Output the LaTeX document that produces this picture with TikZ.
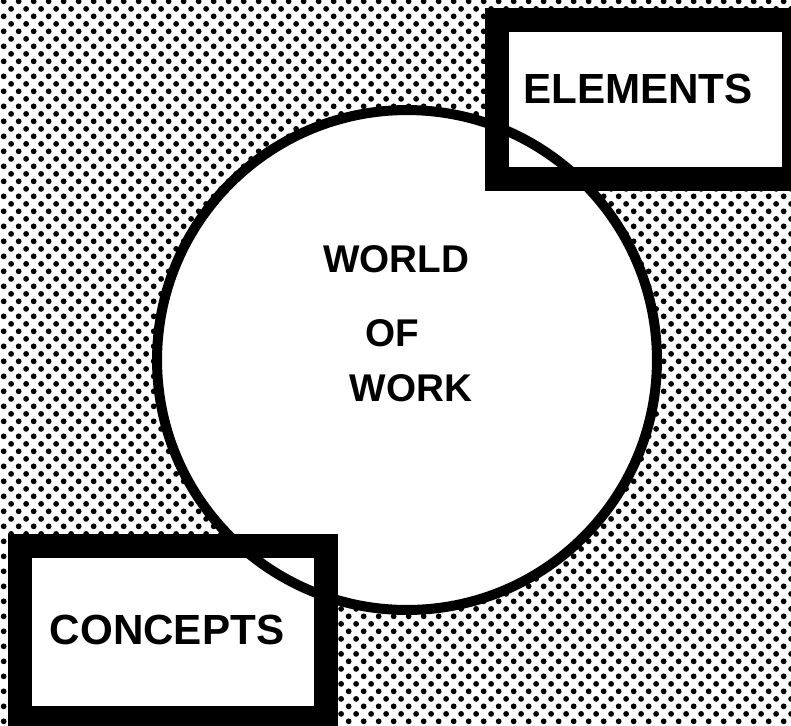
\documentclass[tikz,border=0pt]{standalone}
\usepackage{fontspec}
\setmainfont{Liberation Sans}
\usetikzlibrary{patterns}
\pgfdeclarepatternformonly{halftone}{\pgfpointorigin}{\pgfqpoint{8.5pt}{8.5pt}}{\pgfqpoint{8.5pt}{8.5pt}}{%
  \pgfpathcircle{\pgfqpoint{2.1pt}{2.1pt}}{1.65pt}%
  \pgfpathcircle{\pgfqpoint{6.35pt}{6.35pt}}{1.65pt}%
  \pgfusepath{fill}}
\tikzset{
  framebox/.style={draw,line width=0.48cm,fill=white,inner sep=0pt},
  boxtext/.style={font=\fontsize{24}{28}\selectfont\bfseries},
  ring/.style={line width=0.2cm},
  worldtext/.style={font=\fontsize{22}{26}\selectfont\bfseries}
}
\begin{document}
\begin{tikzpicture}[x=0.02cm,y=-0.02cm]
\useasboundingbox (0,0) rectangle (791,725);
\fill[white] (0,0) rectangle (791,725);
\fill[pattern=halftone] (0,0) rectangle (791,725);
\node (world) [circle,fill=white,minimum size=10cm,inner sep=0pt] at (407,360) {};
\node (elements) [framebox,minimum width=5.94cm,minimum height=3.18cm] at (645.5,99.5) {};
\node (concepts) [framebox,minimum width=6.12cm,minimum height=3.44cm] at (173,632) {};
\draw[ring] (world.center) circle (5cm);
\node (elab) [boxtext] at (638,89) {ELEMENTS};
\node (clab) [boxtext] at (167,630) {CONCEPTS};
\node (world1) [worldtext] at (396,259) {WORLD};
\node (world2) [worldtext] at (392,333) {OF};
\node (world3) [worldtext] at (411,388) {WORK};
\end{tikzpicture}
\end{document}
